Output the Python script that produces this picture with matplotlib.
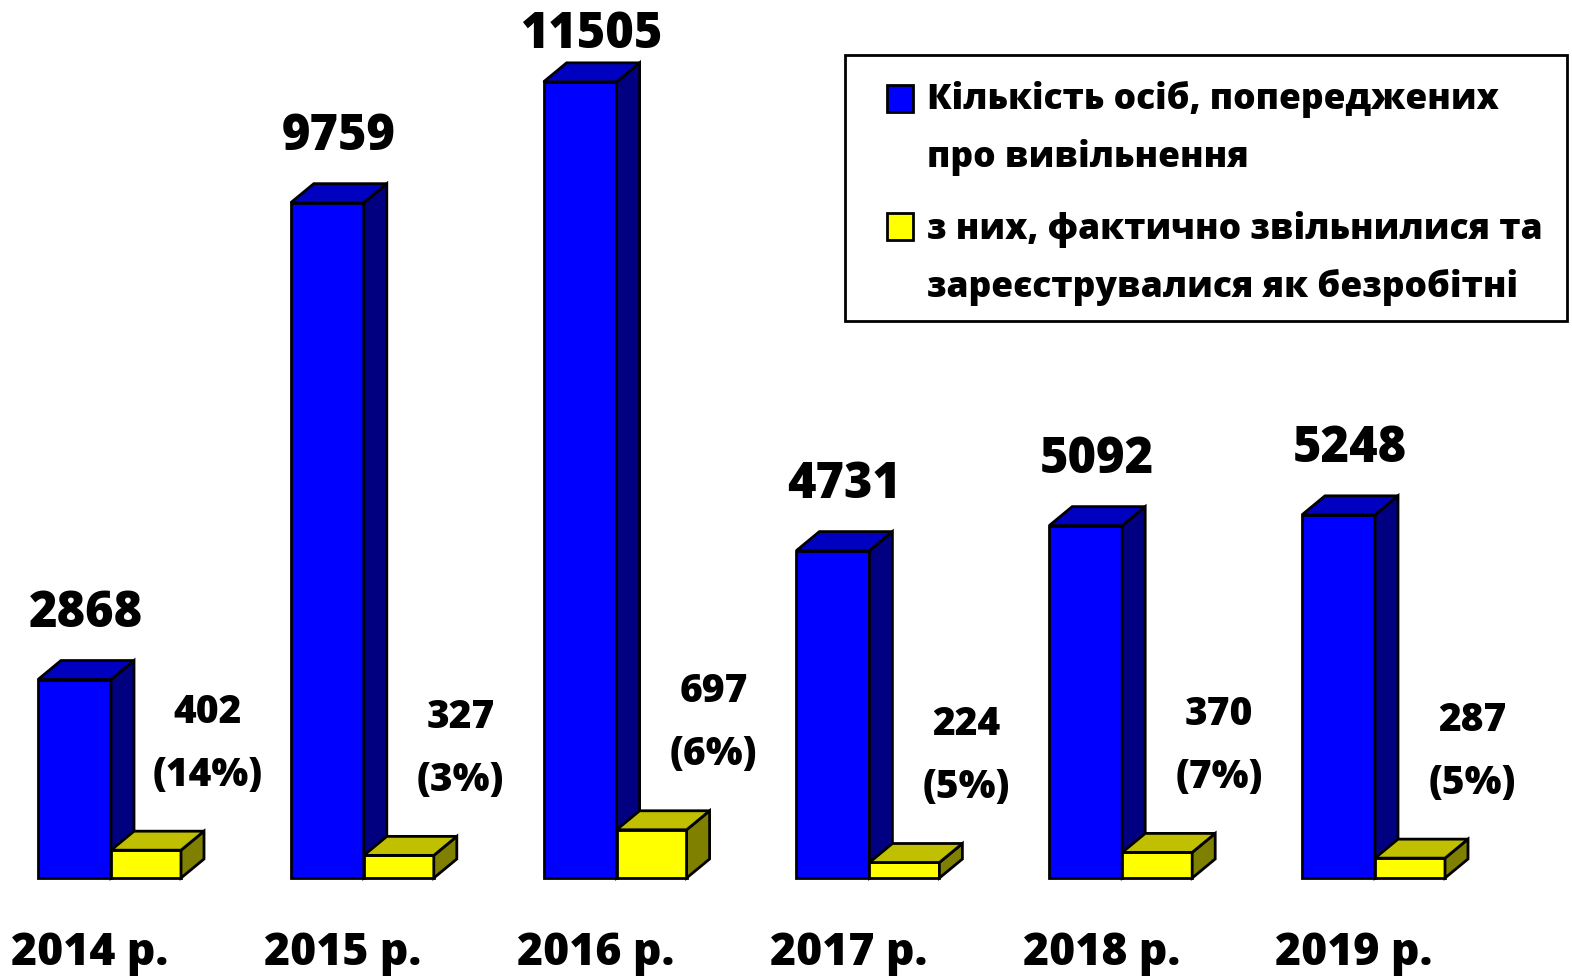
import numpy as np
import matplotlib
matplotlib.use('Agg')
import matplotlib.pyplot as plt
from matplotlib.patches import Polygon, Rectangle

plt.rcParams['font.family'] = ['Open Sans', 'DejaVu Sans']
plt.rcParams['font.weight'] = 'bold'

years = ['2014 р.', '2015 р.', '2016 р.', '2017 р.', '2018 р.', '2019 р.']
warned = [2868, 9759, 11505, 4731, 5092, 5248]
registered = [402, 327, 697, 224, 370, 287]
legend_labels = ['Кількість осіб, попереджених\nпро вивільнення',
                 'з них, фактично звільнилися та\nзареєструвалися як безробітні']

W, H = 1572, 976
fig = plt.figure(figsize=(W / 100, H / 100), dpi=100)
ax = fig.add_axes([0, 0, 1, 1])
ax.axis('off')

# pixel scales
px_x = 252.8          # pixels per category
px_y = 0.0692         # pixels per unit
base_px = 878
ax.set_xlim(-38 / px_x, (W - 38) / px_x)
ax.set_ylim(-(H - base_px) / px_y, base_px / px_y)
ytop = base_px / px_y

bw = 73 / px_x
yw = 70 / px_x
dx = 23 / px_x
dy = 19 / px_y
lw = 2.0
wt = 800


def bar3d(x0, w, v, front, top, side):
    ax.bar(x0, v, width=w, align='edge', color=front, edgecolor='black', linewidth=lw, zorder=3)
    ax.add_patch(Polygon([(x0 + w, 0), (x0 + w + dx, dy), (x0 + w + dx, v + dy), (x0 + w, v)],
                         closed=True, facecolor=side, edgecolor='black', linewidth=lw, zorder=3))
    ax.add_patch(Polygon([(x0, v), (x0 + dx, v + dy), (x0 + w + dx, v + dy), (x0 + w, v)],
                         closed=True, facecolor=top, edgecolor='black', linewidth=lw, zorder=3))


x = np.arange(len(years))
for i in range(len(years)):
    bar3d(x[i], bw, warned[i], '#0000FF', '#0000C0', '#000080')
    bar3d(x[i] + bw, yw, registered[i], '#FFFF00', '#C0C000', '#808000')

    ly = min(warned[i] + dy + 34 / px_y, ytop - 48 / px_y)
    ax.text(x[i] + (bw + dx) / 2, ly, str(warned[i]),
            ha='center', va='baseline', fontsize=35, fontweight=wt)
    pct = round(100 * registered[i] / warned[i])
    lx = x[i] + bw + yw + dx + 4 / px_x
    ax.text(lx, registered[i] + 75 / px_y, '(%d%%)' % pct,
            ha='center', va='center', fontsize=28, fontweight=wt)
    ax.text(lx, registered[i] + 138 / px_y, str(registered[i]),
            ha='center', va='center', fontsize=28, fontweight=wt)
    ax.text(x[i] + 52 / px_x, -76 / px_y, years[i],
            ha='center', va='center', fontsize=32, fontweight=wt)

# legend box
fig.patches.append(Rectangle((845 / W, 1 - 321 / H), (1567 - 845) / W, (321 - 55) / H,
                             transform=fig.transFigure, facecolor='white',
                             edgecolor='black', linewidth=2))
for j, (col, lab) in enumerate(zip(['#0000FF', '#FFFF00'], legend_labels)):
    sq_top = [85, 213][j]
    fig.patches.append(Rectangle((887 / W, 1 - (sq_top + 27) / H), 26 / W, 27 / H,
                                 transform=fig.transFigure, facecolor=col,
                                 edgecolor='black', linewidth=2))
    lines = lab.split('\n')
    for k, line in enumerate(lines):
        yc = [100, 157, 230, 287][2 * j + k]
        fig.text(927 / W, 1 - yc / H, line, ha='left', va='center',
                 fontsize=25.5, fontweight=wt)

fig.savefig('out.png', dpi=100)
